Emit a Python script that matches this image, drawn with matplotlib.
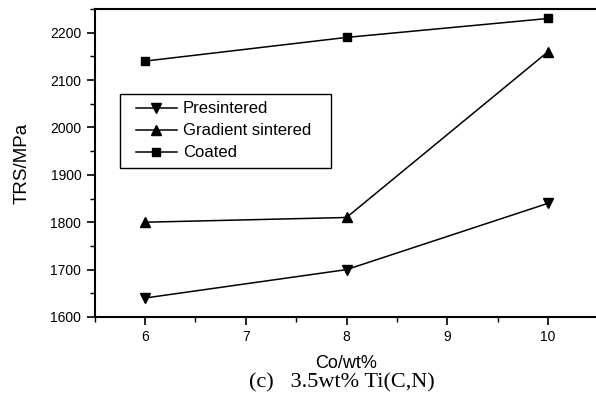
import matplotlib
matplotlib.use("Agg")
import matplotlib.pyplot as plt
from matplotlib.patches import Rectangle
from matplotlib.ticker import MultipleLocator

plt.rcParams["font.family"] = ["Liberation Sans", "DejaVu Sans"]

co = [6, 8, 10]
presintered = [1640, 1700, 1840]
gradient = [1800, 1810, 2160]
coated = [2140, 2190, 2230]

fig = plt.figure(figsize=(5.96, 4.05), dpi=100)
ax = fig.add_axes([0.1586, 0.2173, 0.8456, 0.7605])

ax.plot(co, presintered, color="black", lw=1.1, marker="v", ms=7, label="Presintered")
ax.plot(co, gradient, color="black", lw=1.1, marker="^", ms=7, label="Gradient sintered")
ax.plot(co, coated, color="black", lw=1.1, marker="s", ms=6, label="Coated")

ax.set_xlim(5.5, 10.5)
ax.set_ylim(1600, 2250)
ax.xaxis.set_major_locator(MultipleLocator(1))
ax.xaxis.set_minor_locator(MultipleLocator(0.5))
ax.yaxis.set_major_locator(MultipleLocator(100))
ax.yaxis.set_minor_locator(MultipleLocator(50))
ax.tick_params(which="major", direction="out", length=6, width=1.2, labelsize=10)
ax.tick_params(which="minor", direction="out", length=3.5, width=1.0)
for s in ax.spines.values():
    s.set_linewidth(1.5)

ax.set_xlabel("Co/wt%", fontsize=13, labelpad=8)
ax.set_ylabel("TRS/MPa", fontsize=13.5, labelpad=14)

# legend without its own frame; a wider box is drawn around it below
leg = ax.legend(loc="upper left", bbox_to_anchor=(0.0665, 0.724), borderaxespad=0,
                fontsize=12, frameon=False, handlelength=2.5, borderpad=0.45,
                labelspacing=0.42, handletextpad=0.35)

fig.canvas.draw()
bb = leg.get_window_extent().transformed(fig.transFigure.inverted())
dx_l = 8 / fig.bbox.width
dx_r = 12 / fig.bbox.width
fig.add_artist(Rectangle((bb.x0 - dx_l, bb.y0), bb.width + dx_l + dx_r, bb.height,
                         transform=fig.transFigure, fill=False, edgecolor="black",
                         linewidth=1.0, zorder=5))

fig.text(0.573, 0.054, "(c)   3.5wt% Ti(C,N)", ha="center", va="center",
         fontsize=16, family=["Liberation Serif", "DejaVu Serif"])

fig.savefig("out.png", dpi=100)
